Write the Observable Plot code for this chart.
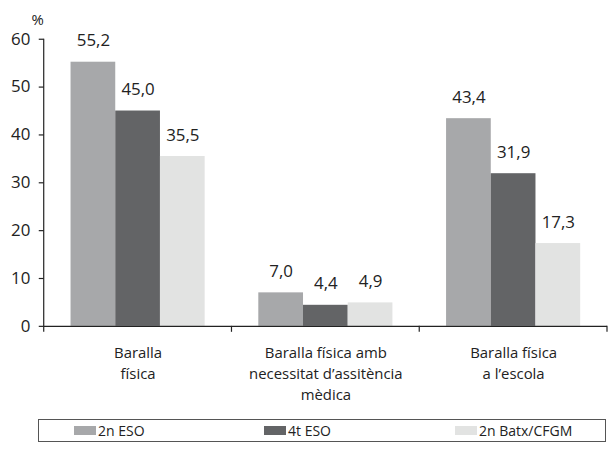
<!DOCTYPE html>
<html><head><meta charset="utf-8">
<script src="https://cdn.jsdelivr.net/npm/d3@7"></script>
<script src="https://cdn.jsdelivr.net/npm/@observablehq/plot@0.6"></script>
<style>
html,body{margin:0;padding:0;background:#fff;overflow:hidden;}
#wrap{position:relative;width:608px;height:449px;overflow:hidden;font-family:"Open Sans",sans-serif;color:#222;}
#chart{position:absolute;left:0;top:0;}
#legend{position:absolute;left:38px;top:419px;width:566px;height:21px;border:1.5px solid #555;box-sizing:content-box;}
.item{position:absolute;top:0;height:21px;display:flex;align-items:center;font-size:14px;white-space:nowrap;}
.sw{display:inline-block;width:22px;height:9px;margin-right:2px;}
</style></head><body><div id="wrap"><div id="chart"></div><div id="legend"></div></div><script>
const categories = ["Baralla\nfísica", "Baralla física amb\nnecessitat d’assitència\nmèdica", "Baralla física\na l’escola"];
const series = ["2n ESO", "4t ESO", "2n Batx/CFGM"];
const values2nESO = [55.2, 7.0, 43.4];
const values4tESO = [45.0, 4.4, 31.9];
const values2nBatx = [35.5, 4.9, 17.3];
const colors = ["#a7a8aa", "#636466", "#e2e3e2"];
const yTicks = [0, 10, 20, 30, 40, 50, 60];
const legendOffsets = [35, 225, 416];

const seriesValues = [values2nESO, values4tESO, values2nBatx];
const rows = categories.flatMap((c, i) => series.map((s, j) => ({category: c, series: s, value: seriesValues[j][i]})));

const plot = Plot.plot({
  width: 612, height: 410,
  marginTop: 39, marginLeft: 43, marginRight: 0, marginBottom: 82,
  style: {fontFamily: '"Open Sans", sans-serif', fontSize: "16px", color: "#222", background: "white", overflow: "visible"},
  fx: {domain: categories, padding: 0, label: null},
  x: {domain: series, paddingInner: 0, paddingOuter: 0.59, axis: null},
  y: {domain: [0, 60], label: null},
  color: {domain: series, range: colors},
  marks: [
    Plot.barY(rows, {fx: "category", x: "series", y: "value", fill: "series"}),
    Plot.text(rows, {fx: "category", x: "series", y: "value", text: d => d.value.toFixed(1).replace(".", ","), dy: -16, lineAnchor: "bottom", fill: "#222", fontSize: 17}),
    Plot.ruleY([0], {stroke: "#222", strokeWidth: 1.2}),
    Plot.axisY({ticks: yTicks, tickSize: 5, tickPadding: 9, label: null, fontSize: 17, stroke: "#222", strokeWidth: 1.2}),
    Plot.axisFx({anchor: "bottom", tickSize: 0, tickPadding: 17, lineHeight: 1.4, fontSize: 15, label: null})
  ]
});
document.getElementById("chart").appendChild(plot);

// axis line and group-boundary ticks from the library's scales
const fx = plot.scale("fx"), y = plot.scale("y");
const svg = d3.select(plot);
const g = svg.append("g").attr("stroke", "#222").attr("stroke-width", 1.2);
const x0 = fx.apply(categories[0]);
g.append("line").attr("x1", x0).attr("x2", x0).attr("y1", y.apply(60)).attr("y2", y.apply(0) + 6);
categories.forEach(c => {
  const xe = fx.apply(c) + fx.bandwidth;
  g.append("line").attr("x1", xe).attr("x2", xe).attr("y1", y.apply(0)).attr("y2", y.apply(0) + 6);
});
svg.append("text").attr("x", x0 - 6).attr("y", 25).attr("fill", "#222")
  .style("font-size", "15px").style("font-family", '"Open Sans", sans-serif').text("%");

const legend = document.getElementById("legend");
series.forEach((s, i) => {
  const it = document.createElement("div");
  it.className = "item";
  it.style.left = legendOffsets[i] + "px";
  it.innerHTML = `<span class="sw" style="background:${colors[i]}"></span><span>${s}</span>`;
  legend.appendChild(it);
});
</script></body></html>
